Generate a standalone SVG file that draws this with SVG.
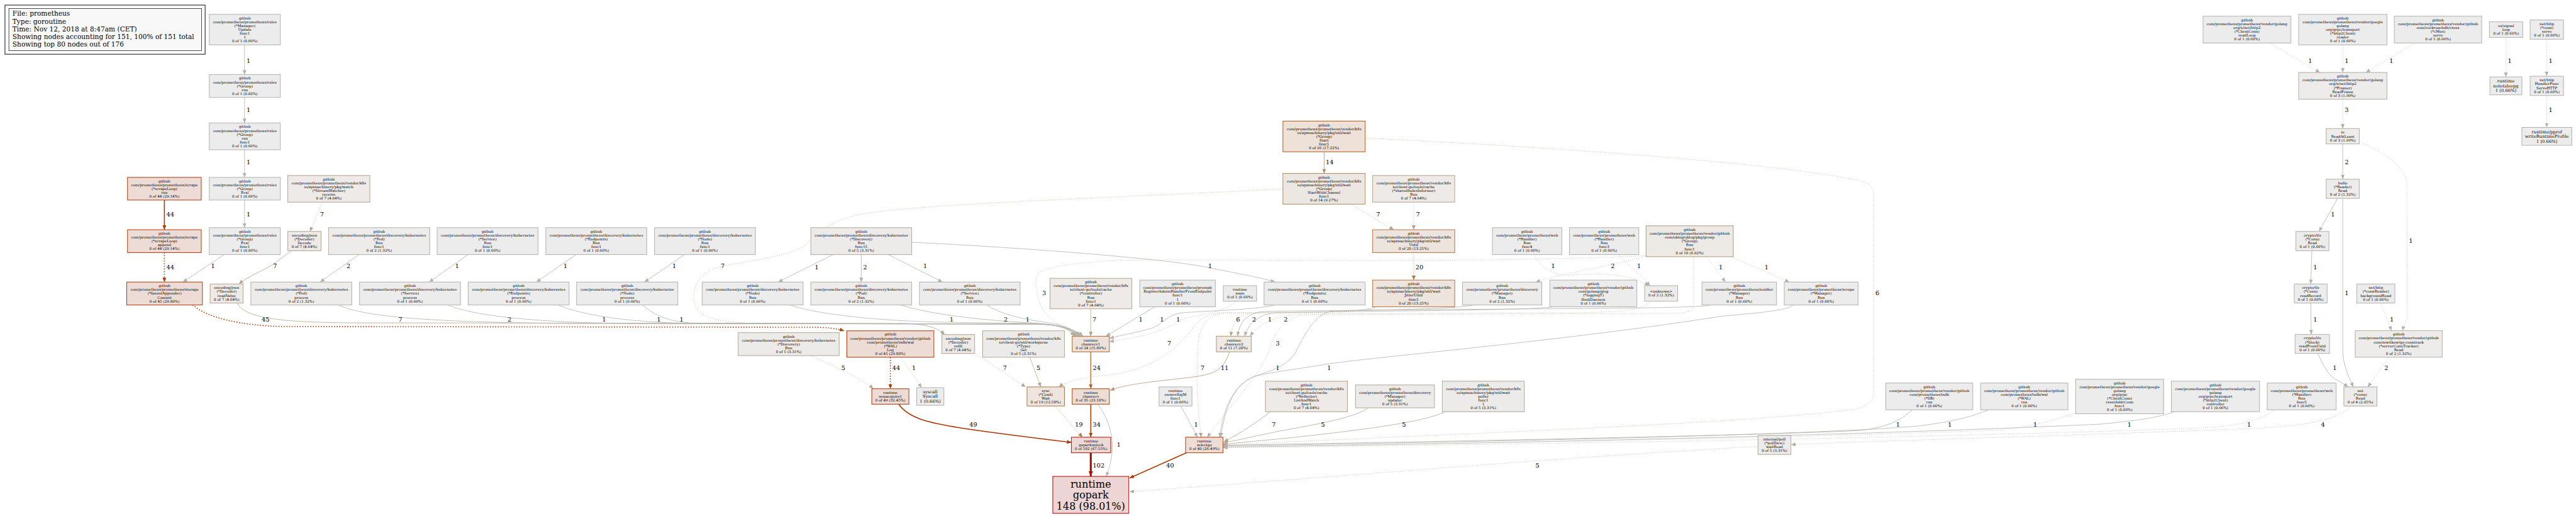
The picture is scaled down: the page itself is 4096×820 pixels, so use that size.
<svg xmlns="http://www.w3.org/2000/svg" width="4096" height="820" viewBox="0 0 4096 820">
<style>
.t{font-family:"DejaVu Serif",serif;font-size:5.7px;text-anchor:middle;fill:#000}
.tm{font-size:6.8px}
.tb{font-size:16px}
.lg{font-family:"DejaVu Serif",serif;font-size:10.6px;fill:#000}
.el{font-family:"DejaVu Serif",serif;font-size:9.8px;text-anchor:middle;fill:#000}
.nd rect{stroke-width:1}
.e{fill:none;stroke-width:0.8}
.d{stroke-dasharray:1 2.2}
.k{stroke-width:1.6}
.kk{stroke-width:3.2}
.dk{stroke-dasharray:1.6 2.6}
.w1 rect{fill:#edecec;stroke:#b2b1ac}
.w2 rect{fill:#edeceb;stroke:#b2afa6}
.w3 rect{fill:#edecea;stroke:#b2ada0}
.w4 rect{fill:#edecea;stroke:#b2aa9a}
.w5 rect{fill:#edebe9;stroke:#b2a794}
.w7 rect{fill:#edeae7;stroke:#b2a289}
.w10 rect{fill:#ede9e5;stroke:#b29877}
.w11 rect{fill:#ede9e4;stroke:#b29471}
.w14 rect{fill:#ede7e2;stroke:#b2895f}
.w19 rect{fill:#ede5de;stroke:#b27642}
.w20 rect{fill:#ede4dd;stroke:#b2723c}
.w24 rect{fill:#ede2da;stroke:#b26024}
.w26 rect{fill:#ede1d8;stroke:#b25718}
.w35 rect{fill:#edddd5;stroke:#b23f00}
.w40 rect{fill:#edddd5;stroke:#b23a00}
.w44 rect{fill:#eddcd5;stroke:#b23700}
.w45 rect{fill:#eddcd5;stroke:#b23600}
.w49 rect{fill:#eddcd5;stroke:#b23300}
.w102 rect{fill:#edd8d5;stroke:#b21300}
.w148 rect{fill:#edd5d5;stroke:#b20100}
.c1{stroke:#b2b1ac;marker-end:url(#a1)}
.c2{stroke:#b2afa6;marker-end:url(#a2)}
.c3{stroke:#b2ada0;marker-end:url(#a3)}
.c4{stroke:#b2aa9a;marker-end:url(#a4)}
.c5{stroke:#b2a794;marker-end:url(#a5)}
.c6{stroke:#b2a58f;marker-end:url(#a6)}
.c7{stroke:#b2a289;marker-end:url(#a7)}
.c11{stroke:#b29471;marker-end:url(#a11)}
.c14{stroke:#b2895f;marker-end:url(#a14)}
.c19{stroke:#b27642;marker-end:url(#a19)}
.c20{stroke:#b2723c;marker-end:url(#a20)}
.c24{stroke:#b26024;marker-end:url(#a24)}
.c34{stroke:#b24000;marker-end:url(#a34)}
.c40{stroke:#b23a00;marker-end:url(#a40)}
.c44{stroke:#b23700;marker-end:url(#a44)}
.c45{stroke:#b23600;marker-end:url(#a45)}
.c49{stroke:#b23300;marker-end:url(#a49)}
.c102{stroke:#b21300;marker-end:url(#a102)}
</style>
<defs>
<marker id="a1" markerWidth="8" markerHeight="7" refX="7" refY="3" orient="auto" markerUnits="userSpaceOnUse"><path d="M0,0L7,3L0,6z" fill="#b2b1ac"/></marker>
<marker id="a2" markerWidth="8" markerHeight="7" refX="7" refY="3" orient="auto" markerUnits="userSpaceOnUse"><path d="M0,0L7,3L0,6z" fill="#b2afa6"/></marker>
<marker id="a3" markerWidth="8" markerHeight="7" refX="7" refY="3" orient="auto" markerUnits="userSpaceOnUse"><path d="M0,0L7,3L0,6z" fill="#b2ada0"/></marker>
<marker id="a4" markerWidth="8" markerHeight="7" refX="7" refY="3" orient="auto" markerUnits="userSpaceOnUse"><path d="M0,0L7,3L0,6z" fill="#b2aa9a"/></marker>
<marker id="a5" markerWidth="8" markerHeight="7" refX="7" refY="3" orient="auto" markerUnits="userSpaceOnUse"><path d="M0,0L7,3L0,6z" fill="#b2a794"/></marker>
<marker id="a6" markerWidth="8" markerHeight="7" refX="7" refY="3" orient="auto" markerUnits="userSpaceOnUse"><path d="M0,0L7,3L0,6z" fill="#b2a58f"/></marker>
<marker id="a7" markerWidth="8" markerHeight="7" refX="7" refY="3" orient="auto" markerUnits="userSpaceOnUse"><path d="M0,0L7,3L0,6z" fill="#b2a289"/></marker>
<marker id="a11" markerWidth="8" markerHeight="7" refX="7" refY="3" orient="auto" markerUnits="userSpaceOnUse"><path d="M0,0L7,3L0,6z" fill="#b29471"/></marker>
<marker id="a14" markerWidth="8" markerHeight="7" refX="7" refY="3" orient="auto" markerUnits="userSpaceOnUse"><path d="M0,0L7,3L0,6z" fill="#b2895f"/></marker>
<marker id="a19" markerWidth="8" markerHeight="7" refX="7" refY="3" orient="auto" markerUnits="userSpaceOnUse"><path d="M0,0L7,3L0,6z" fill="#b27642"/></marker>
<marker id="a20" markerWidth="8" markerHeight="7" refX="7" refY="3" orient="auto" markerUnits="userSpaceOnUse"><path d="M0,0L7,3L0,6z" fill="#b2723c"/></marker>
<marker id="a24" markerWidth="8" markerHeight="7" refX="7" refY="3" orient="auto" markerUnits="userSpaceOnUse"><path d="M0,0L7,3L0,6z" fill="#b26024"/></marker>
<marker id="a34" markerWidth="8" markerHeight="7" refX="7" refY="3" orient="auto" markerUnits="userSpaceOnUse"><path d="M0,0L7,3L0,6z" fill="#b24000"/></marker>
<marker id="a40" markerWidth="8" markerHeight="7" refX="7" refY="3" orient="auto" markerUnits="userSpaceOnUse"><path d="M0,0L7,3L0,6z" fill="#b23a00"/></marker>
<marker id="a44" markerWidth="8" markerHeight="7" refX="7" refY="3" orient="auto" markerUnits="userSpaceOnUse"><path d="M0,0L7,3L0,6z" fill="#b23700"/></marker>
<marker id="a45" markerWidth="8" markerHeight="7" refX="7" refY="3" orient="auto" markerUnits="userSpaceOnUse"><path d="M0,0L7,3L0,6z" fill="#b23600"/></marker>
<marker id="a49" markerWidth="8" markerHeight="7" refX="7" refY="3" orient="auto" markerUnits="userSpaceOnUse"><path d="M0,0L7,3L0,6z" fill="#b23300"/></marker>
<marker id="a102" markerWidth="9" markerHeight="8" refX="8" refY="3.5" orient="auto" markerUnits="userSpaceOnUse"><path d="M0,0L8,3.5L0,7z" fill="#b21300"/></marker>
</defs>
<rect x="0" y="0" width="4096" height="820" fill="#fff"/>

<g id="legend">
<rect x="7.9" y="8.1" width="318.3" height="78.1" fill="#fff" stroke="#444" stroke-width="1.3"/>
<rect x="14.1" y="13.6" width="306.4" height="66.9" fill="#f8f8f8" stroke="#000" stroke-width="0.7"/>
<text class="lg" x="19.8" y="25.3">File: prometheus</text>
<text class="lg" x="19.8" y="37.5">Type: goroutine</text>
<text class="lg" x="19.8" y="49.7">Time: Nov 12, 2018 at 8:47am (CET)</text>
<text class="lg" x="19.8" y="61.9">Showing nodes accounting for 151, 100% of 151 total</text>
<text class="lg" x="19.8" y="74.1">Showing top 80 nodes out of 176</text>
</g>

<g id="connectors">
<path class="e c1" d="M388.8,71.3L388.8,118.4"/>
<path class="e c1" d="M388.8,154.8L388.8,195.4"/>
<path class="e c1" d="M388.8,238L388.8,281.9"/>
<path class="e c1" d="M388.8,317.9L388.8,361.8"/>
<path class="e k c44" d="M261.4,317.9L261.4,365.1"/>
<path class="e d c7" d="M512.7,321.2L492.8,367.8"/>
<path class="e k dk c44" d="M261.4,401.4L261.4,448.2"/>
<path class="e c1" d="M356.2,404.6L290.9,448.2"/>
<path class="e c7" d="M462.8,398.4C455,405 450,408 440,416C425,428 395,438 380,451.3"/>
<path class="e c2" d="M570.8,404.6L509.1,448.2"/>
<path class="e c1" d="M744,404.6L682.4,448.2"/>
<path class="e c1" d="M915.9,404.6L852.9,448.2"/>
<path class="e c1" d="M1088.7,404.6L1024.8,448.2"/>
<path class="e c1" d="M1324.6,404.6L1237.3,448.2"/>
<path class="e c2" d="M1369.4,404.6L1369.4,448.2"/>
<path class="e c1" d="M1412.6,404.6L1498.6,448.2"/>
<path class="e c1" d="M1449.6,385C1600,392 1850,410 1920,425C1970,435 2000,440 2027.5,448.2"/>
<path class="e d c7" d="M2039.9,300.3C1750,315 1450,325 1372,340C1320,350 1300,370 1280,390C1250,410 1180,415 1140,425C1110,435 1100,460 1104,480C1108,500 1130,512 1200,514L1650,515C1690,516 1702,525 1708,534.3"/>
<path class="e k dk c45" d="M306.4,484.7C330,505 380,517 450,519L1290,520C1315,520 1330,522 1342.2,525.7"/>
<path class="e c7" d="M376.9,481.6C390,505 440,512 560,513L1440,514C1470,515 1490,520 1502.1,531.7"/>
<path class="e c2" d="M538.7,484.7C580,505 700,512 900,514L1650,515C1690,516 1705,525 1712,534.3"/>
<path class="e c1" d="M711.9,484.7C760,505 880,513 1000,514L1650,515C1690,516 1708,525 1715,534.3"/>
<path class="e c1" d="M887.3,484.7C930,502 1000,512 1100,514L1650,515C1690,516 1710,525 1718,534.3"/>
<path class="e c1" d="M1021.3,484.7C1040,500 1060,512 1110,514L1650,515C1690,516 1712,525 1721,534.3"/>
<path class="e c1" d="M1256.3,484.7C1300,500 1400,510 1500,512L1650,514C1690,516 1712,525 1722,534.3"/>
<path class="e c2" d="M1432.5,484.7C1480,500 1560,508 1620,512C1680,515 1700,520 1712,534.3"/>
<path class="e c1" d="M1569.1,484.7C1600,505 1650,510 1680,515C1700,520 1710,527 1716,534.3"/>
<path class="e c7" d="M1734.4,490.7L1734.4,534.3"/>
<path class="e c1" d="M1835.8,487.6L1758.6,534.3"/>
<path class="e c1" d="M2027.5,484.7C2000,492 1920,494 1880,497C1855,500 1850,515 1830,522C1800,530 1780,533 1764,538"/>
<path class="e d c1" d="M1965,478.7C1945,500 1890,500 1875,510C1850,528 1800,538 1764,543"/>
<path class="e d c3" d="M2617.3,406.5C2300,420 1900,410 1776,414C1700,418 1650,425 1648,440C1645,470 1655,495 1675,510C1690,520 1702,527 1710,534.3"/>
<path class="e c14" d="M2105.5,241.2L2105.5,275.6"/>
<path class="e d c7" d="M2147.8,324.4L2216.1,365.1"/>
<path class="e d c7" d="M2247.9,321.2L2247.9,365.1"/>
<path class="e d c20" d="M2247.9,401.4L2247.9,445.1"/>
<path class="e d c2" d="M2617.3,406.5C2580,420 2500,430 2441.8,448.2"/>
<path class="e d c1" d="M2439.6,404.6C2450,425 2470,440 2500,437C2560,432 2600,440 2622,454"/>
<path class="e d c1" d="M2574.1,404.6L2624,454"/>
<path class="e d c1" d="M2713,407.9L2743.7,448.2"/>
<path class="e d c1" d="M2752.5,407.9L2845.1,448.2"/>
<path class="e d c6" d="M2170.7,219.5C2500,235 2850,262 2960,288C2975,292 2979,300 2979,312L2979,625C2979,640 2965,646 2950,650C2800,672 2300,690 1944.7,707"/>
<path class="e d c3" d="M2693.1,407.9L2693.1,485C2693,495 2680,498 2660,498L2080,500C2050,501 2030,520 2022,545C2010,590 1960,640 1919.6,694.8"/>
<path class="e d c6" d="M2188.4,487.6C2170,496 2100,496 2000,497C1970,498 1960,510 1957,534.3"/>
<path class="e c2" d="M2342.6,484.7C2300,494 2100,493 2010,495C1980,497 1970,515 1968,534.3"/>
<path class="e c1" d="M2470.5,487.6C2420,494 2150,494 2030,497C2000,499 1985,515 1979,534.3"/>
<path class="e d c2" d="M2624.8,478.7C2610,493 2580,496 2500,497L2070,499C2030,500 2000,515 1988,534.3"/>
<path class="e d c7" d="M2188.4,487.6C2170,497 2100,497 1950,497C1915,497 1905,510 1890,530C1860,565 1820,590 1760,596C1720,600 1695,606 1683.7,614.9"/>
<path class="e d c7" d="M2188.4,487.6C2170,497 2100,497 1950,497C1920,498 1908,520 1905,545C1902,600 1904,650 1910,694.8"/>
<path class="e c1" d="M2719.5,484.7C2700,492 2300,490 2120,494C2095,497 2080,520 2060,560C2045,585 2010,592 1995,598C1960,612 1945,650 1939.4,694.8"/>
<path class="e c1" d="M2851.7,484.7C2840,495 2780,498 2734,503C2500,540 2200,566 2113,578C2070,586 2010,592 1990,600C1960,615 1948,650 1941,694.8"/>
<path class="e c7" d="M2020,654.3C2000,670 1970,690 1946,702"/>
<path class="e c5" d="M2175.1,648.1C2160,660 2120,670 2040,684C2000,692 1970,699 1945,704"/>
<path class="e c5" d="M2297.7,654.3C2270,668 2200,680 2042.9,696.6L1945,706"/>
<path class="e c1" d="M3041.2,651.2C3020,670 3000,678 2960,684C2850,690 2400,700 1945,707.5"/>
<path class="e c1" d="M3162.4,651.2C3130,665 3090,672 3050,677C2900,690 2400,702 1945,708.5"/>
<path class="e d c1" d="M3299.1,656.2C3260,670 3220,680 3180,683C2900,695 2400,704 1945,709.5"/>
<path class="e c1" d="M3457.4,654.3C3430,664 3400,668 3340,674C3000,690 2400,705 1945,710.5"/>
<path class="e d c1" d="M3617.3,651.2C3595,668 3560,677 3500,680C3200,692 2500,706 1945,711.5"/>
<path class="e d c4" d="M3737.8,645.2C3720,665 3680,676 3580,681C3300,692 3000,700 2848,706.5"/>
<path class="e d c5" d="M2795.3,709.6C2500,725 2100,760 1796.1,781.4"/>
<path class="e d c5" d="M1289.3,565.1C1320,580 1370,600 1388.4,617.8"/>
<path class="e k dk c44" d="M1415.7,567.7L1415.7,617.8"/>
<path class="e d c1" d="M1432.4,567.7L1465.5,616"/>
<path class="e d c7" d="M1551.5,562.2L1630.8,614.9"/>
<path class="e c5" d="M1637.4,567.7L1655.1,614.9"/>
<path class="e c24" style="stroke-width:1.2" d="M1734.4,559.1L1734.4,617.8"/>
<path class="e c11" d="M1954.8,559.1C1945,590 1930,595 1890,600C1840,606 1790,610 1765.3,620.4"/>
<path class="e d c19" d="M1677.5,645.2L1721.2,694.8"/>
<path class="e k c34" d="M1734.4,642.3L1734.4,694.8"/>
<path class="e c1" d="M1745.4,642.3C1770,675 1776,715 1758.7,757.1"/>
<path class="e k c49" d="M1428.9,642.3C1445,665 1475,672 1540,682C1610,692 1670,699 1703.6,703.1"/>
<path class="e kk c102" d="M1734.4,719.6L1734.4,757.1"/>
<path class="e k c40" d="M1886.5,719.6L1796.1,759.7"/>
<path class="e c1" d="M1877.7,645.2L1904.1,694.8"/>
<path class="e d c1" d="M3609.4,68.3L3688.8,115.2"/>
<path class="e d c1" d="M3725.1,71.3L3725.1,115.2"/>
<path class="e d c1" d="M3839.9,68.3L3761.9,115.2"/>
<path class="e d c1" d="M3984.5,59.4L3984.5,122.2"/>
<path class="e d c1" d="M4049.4,62.3L4049.4,121.1"/>
<path class="e d c1" d="M4049.4,151.8L4049.4,202.5"/>
<path class="e d c3" d="M3725.1,157.7L3725.1,204.3"/>
<path class="e c2" d="M3725.1,228.7L3725.1,284.8"/>
<path class="e d c1" d="M3751.4,224.9C3790,242 3822,262 3827,290L3827.7,500C3827,510 3822,518 3820.2,525.4"/>
<path class="e c1" d="M3716.8,315.2L3687.4,367.8"/>
<path class="e c1" d="M3725.1,315.2L3725.1,555C3725,580 3735,600 3742.2,614.9"/>
<path class="e c1" d="M3676,398.4L3674.3,451.3"/>
<path class="e c1" d="M3674.3,481.6L3675,531.4"/>
<path class="e c1" d="M3685.7,561.7C3693,580 3700,590 3707,598C3715,605 3725,608 3733.5,614.9"/>
<path class="e d c1" d="M3785.2,481.6L3802.7,525.4"/>
<path class="e d c2" d="M3797.9,567.7L3765,614.9"/>

<text class="el" x="395" y="100.4">1</text>
<text class="el" x="395" y="177.9">1</text>
<text class="el" x="395" y="261.1">1</text>
<text class="el" x="395" y="344.2">1</text>
<text class="el" x="270.7" y="344.2">44</text>
<text class="el" x="511.8" y="344.3">7</text>
<text class="el" x="270.7" y="427.6">44</text>
<text class="el" x="338.5" y="425.6">1</text>
<text class="el" x="437.3" y="425.6">7</text>
<text class="el" x="554.1" y="425.6">2</text>
<text class="el" x="726.8" y="425.6">1</text>
<text class="el" x="899.2" y="425.6">1</text>
<text class="el" x="1072" y="425.6">1</text>
<text class="el" x="1298.6" y="427.6">1</text>
<text class="el" x="1375.6" y="427.6">2</text>
<text class="el" x="1471.2" y="425.6">1</text>
<text class="el" x="1924" y="425.6">1</text>
<text class="el" x="1149" y="425.6">7</text>
<text class="el" x="422.3" y="511.3">45</text>
<text class="el" x="636.5" y="511.3">7</text>
<text class="el" x="810.2" y="511.3">2</text>
<text class="el" x="960.5" y="511.3">1</text>
<text class="el" x="1047.7" y="511.3">1</text>
<text class="el" x="1083.5" y="511.3">1</text>
<text class="el" x="1513.1" y="511.3">1</text>
<text class="el" x="1599.1" y="511.3">2</text>
<text class="el" x="1633.9" y="511.3">1</text>
<text class="el" x="1740.1" y="511.3">7</text>
<text class="el" x="1813.8" y="511.3">1</text>
<text class="el" x="1847.7" y="511.3">1</text>
<text class="el" x="1873.3" y="511.3">1</text>
<text class="el" x="1660.3" y="468.8">3</text>
<text class="el" x="2114.3" y="261.1">14</text>
<text class="el" x="2191.4" y="344.3">7</text>
<text class="el" x="2254.5" y="344.3">7</text>
<text class="el" x="2257.1" y="427.6">20</text>
<text class="el" x="2564.4" y="425.6">2</text>
<text class="el" x="2469.6" y="425.6">1</text>
<text class="el" x="2606.2" y="425.6">1</text>
<text class="el" x="2736.2" y="427.6">1</text>
<text class="el" x="2808.9" y="427.6">1</text>
<text class="el" x="2985.2" y="468.8">6</text>
<text class="el" x="2031.5" y="548.9">3</text>
<text class="el" x="1968.5" y="511.3">6</text>
<text class="el" x="1994.1" y="511.3">2</text>
<text class="el" x="2019.2" y="511.3">1</text>
<text class="el" x="2044.3" y="511.3">2</text>
<text class="el" x="1859.2" y="548.9">7</text>
<text class="el" x="1912" y="588">7</text>
<text class="el" x="2031.5" y="588">1</text>
<text class="el" x="2113.4" y="588">1</text>
<text class="el" x="2025.3" y="677.5">7</text>
<text class="el" x="2103.7" y="677.5">5</text>
<text class="el" x="2232.4" y="677.5">5</text>
<text class="el" x="3017.9" y="677.5">1</text>
<text class="el" x="3100.3" y="677.5">1</text>
<text class="el" x="3236.1" y="677.5">1</text>
<text class="el" x="3385.9" y="677.5">1</text>
<text class="el" x="3576.1" y="677.5">1</text>
<text class="el" x="3693.6" y="677.5">4</text>
<text class="el" x="2444.5" y="742.7">5</text>
<text class="el" x="1340.9" y="588">5</text>
<text class="el" x="1425" y="588">44</text>
<text class="el" x="1453.2" y="588">1</text>
<text class="el" x="1597.8" y="588">7</text>
<text class="el" x="1651.1" y="588">5</text>
<text class="el" x="1743.7" y="588">24</text>
<text class="el" x="1947.3" y="588">11</text>
<text class="el" x="1715.4" y="677.5">19</text>
<text class="el" x="1743.7" y="677.5">34</text>
<text class="el" x="1778.9" y="709.8">1</text>
<text class="el" x="1547.5" y="677.5">49</text>
<text class="el" x="1746.8" y="742.5">102</text>
<text class="el" x="1860.5" y="742.5">40</text>
<text class="el" x="1901.9" y="677.5">1</text>
<text class="el" x="3673.4" y="100.4">1</text>
<text class="el" x="3731.3" y="100.4">1</text>
<text class="el" x="3802.3" y="100.4">1</text>
<text class="el" x="3990.7" y="100.4">1</text>
<text class="el" x="4055.5" y="100.4">1</text>
<text class="el" x="4055.5" y="177.9">1</text>
<text class="el" x="3731.3" y="177.9">3</text>
<text class="el" x="3731.3" y="261.1">2</text>
<text class="el" x="3833.4" y="386.3">1</text>
<text class="el" x="3709.3" y="344.3">1</text>
<text class="el" x="3731.3" y="468.8">1</text>
<text class="el" x="3681.3" y="427.6">1</text>
<text class="el" x="3681.3" y="511.3">1</text>
<text class="el" x="3712.4" y="588">1</text>
<text class="el" x="3803.1" y="511.3">1</text>
<text class="el" x="3794.4" y="588">2</text>
</g>

<g id="n-rules-update" class="nd w1"><rect x="332.8" y="22.8" width="112.9" height="48.5"/><text class="t" x="389.25" y="30.75">github<tspan x="389.25" dy="6.1">com/prometheus/prometheus/rules</tspan><tspan x="389.25" dy="6.1">(*Manager)</tspan><tspan x="389.25" dy="6.1">Update</tspan><tspan x="389.25" dy="6.1">func1</tspan><tspan x="389.25" dy="6.1">1</tspan><tspan x="389.25" dy="6.1">0 of 1 (0.66%)</tspan></text></g>
<g id="n-rules-run" class="nd w1"><rect x="332.8" y="118.4" width="112.9" height="36.4"/><text class="t" x="389.25" y="126.4">github<tspan x="389.25" dy="6.1">com/prometheus/prometheus/rules</tspan><tspan x="389.25" dy="6.1">(*Group)</tspan><tspan x="389.25" dy="6.1">run</tspan><tspan x="389.25" dy="6.1">0 of 1 (0.66%)</tspan></text></g>
<g id="n-rules-run-func1" class="nd w1"><rect x="332.8" y="195.4" width="112.9" height="42.6"/><text class="t" x="389.25" y="203.45">github<tspan x="389.25" dy="6.1">com/prometheus/prometheus/rules</tspan><tspan x="389.25" dy="6.1">(*Group)</tspan><tspan x="389.25" dy="6.1">run</tspan><tspan x="389.25" dy="6.1">func1</tspan><tspan x="389.25" dy="6.1">0 of 1 (0.66%)</tspan></text></g>
<g id="n-rules-eval" class="nd w1"><rect x="332.8" y="281.9" width="112.9" height="36"/><text class="t" x="389.25" y="289.7">github<tspan x="389.25" dy="6.1">com/prometheus/prometheus/rules</tspan><tspan x="389.25" dy="6.1">(*Group)</tspan><tspan x="389.25" dy="6.1">Eval</tspan><tspan x="389.25" dy="6.1">0 of 1 (0.66%)</tspan></text></g>
<g id="n-rules-eval-func1" class="nd w1"><rect x="332.8" y="361.8" width="112.9" height="42.8"/><text class="t" x="389.25" y="369.95">github<tspan x="389.25" dy="6.1">com/prometheus/prometheus/rules</tspan><tspan x="389.25" dy="6.1">(*Group)</tspan><tspan x="389.25" dy="6.1">Eval</tspan><tspan x="389.25" dy="6.1">func1</tspan><tspan x="389.25" dy="6.1">0 of 1 (0.66%)</tspan></text></g>
<g id="n-scrapeloop-run" class="nd w44"><rect x="202.8" y="281.9" width="117.2" height="36"/><text class="t" x="261.4" y="289.7">github<tspan x="261.4" dy="6.1">com/prometheus/prometheus/scrape</tspan><tspan x="261.4" dy="6.1">(*scrapeLoop)</tspan><tspan x="261.4" dy="6.1">run</tspan><tspan x="261.4" dy="6.1">0 of 44 (29.14%)</tspan></text></g>
<g id="n-scrapeloop-append" class="nd w44"><rect x="202.8" y="365.1" width="117.2" height="36.3"/><text class="t" x="261.4" y="373.05">github<tspan x="261.4" dy="6.1">com/prometheus/prometheus/scrape</tspan><tspan x="261.4" dy="6.1">(*scrapeLoop)</tspan><tspan x="261.4" dy="6.1">append</tspan><tspan x="261.4" dy="6.1">0 of 44 (29.14%)</tspan></text></g>
<g id="n-streamwatcher" class="nd w7"><rect x="457.6" y="278.9" width="130.5" height="42.3"/><text class="t" x="522.85" y="286.8">github<tspan x="522.85" dy="6.1">com/prometheus/prometheus/vendor/k8s</tspan><tspan x="522.85" dy="6.1">io/apimachinery/pkg/watch</tspan><tspan x="522.85" dy="6.1">(*StreamWatcher)</tspan><tspan x="522.85" dy="6.1">receive</tspan><tspan x="522.85" dy="6.1">0 of 7 (4.64%)</tspan></text></g>
<g id="n-json-decode" class="nd w7"><rect x="457.6" y="367.8" width="52.9" height="30.6"/><text class="t" x="484.05" y="375.95">encoding/json<tspan x="484.05" dy="6.1">(*Decoder)</tspan><tspan x="484.05" dy="6.1">Decode</tspan><tspan x="484.05" dy="6.1">0 of 7 (4.64%)</tspan></text></g>
<g id="n-pod-run-func1" class="nd w2"><rect x="522.4" y="361.8" width="160.9" height="42.8"/><text class="t" x="602.85" y="369.95">github<tspan x="602.85" dy="6.1">com/prometheus/prometheus/discovery/kubernetes</tspan><tspan x="602.85" dy="6.1">(*Pod)</tspan><tspan x="602.85" dy="6.1">Run</tspan><tspan x="602.85" dy="6.1">func1</tspan><tspan x="602.85" dy="6.1">0 of 2 (1.32%)</tspan></text></g>
<g id="n-service-run-func1" class="nd w1"><rect x="695.1" y="361.8" width="160.4" height="42.8"/><text class="t" x="775.3" y="369.95">github<tspan x="775.3" dy="6.1">com/prometheus/prometheus/discovery/kubernetes</tspan><tspan x="775.3" dy="6.1">(*Service)</tspan><tspan x="775.3" dy="6.1">Run</tspan><tspan x="775.3" dy="6.1">func1</tspan><tspan x="775.3" dy="6.1">0 of 1 (0.66%)</tspan></text></g>
<g id="n-endpoints-run-func1" class="nd w1"><rect x="867.9" y="361.8" width="160.4" height="42.8"/><text class="t" x="948.1" y="369.95">github<tspan x="948.1" dy="6.1">com/prometheus/prometheus/discovery/kubernetes</tspan><tspan x="948.1" dy="6.1">(*Endpoints)</tspan><tspan x="948.1" dy="6.1">Run</tspan><tspan x="948.1" dy="6.1">func1</tspan><tspan x="948.1" dy="6.1">0 of 1 (0.66%)</tspan></text></g>
<g id="n-node-run-func1" class="nd w1"><rect x="1040.7" y="361.8" width="160.4" height="42.8"/><text class="t" x="1120.9" y="369.95">github<tspan x="1120.9" dy="6.1">com/prometheus/prometheus/discovery/kubernetes</tspan><tspan x="1120.9" dy="6.1">(*Node)</tspan><tspan x="1120.9" dy="6.1">Run</tspan><tspan x="1120.9" dy="6.1">func1</tspan><tspan x="1120.9" dy="6.1">0 of 1 (0.66%)</tspan></text></g>
<g id="n-discovery-run-func15" class="nd w5"><rect x="1289.3" y="361.8" width="160.3" height="42.8"/><text class="t" x="1369.45" y="369.95">github<tspan x="1369.45" dy="6.1">com/prometheus/prometheus/discovery/kubernetes</tspan><tspan x="1369.45" dy="6.1">(*Discovery)</tspan><tspan x="1369.45" dy="6.1">Run</tspan><tspan x="1369.45" dy="6.1">func15</tspan><tspan x="1369.45" dy="6.1">0 of 5 (3.31%)</tspan></text></g>
<g id="n-group-start-func1" class="nd w26"><rect x="2039.9" y="192.4" width="130.8" height="48.8"/><text class="t" x="2105.3" y="200.5">github<tspan x="2105.3" dy="6.1">com/prometheus/prometheus/vendor/k8s</tspan><tspan x="2105.3" dy="6.1">io/apimachinery/pkg/util/wait</tspan><tspan x="2105.3" dy="6.1">(*Group)</tspan><tspan x="2105.3" dy="6.1">Start</tspan><tspan x="2105.3" dy="6.1">func1</tspan><tspan x="2105.3" dy="6.1">0 of 26 (17.22%)</tspan></text></g>
<g id="n-startwithchannel-func1" class="nd w14"><rect x="2039.9" y="275.6" width="130.8" height="48.8"/><text class="t" x="2105.3" y="283.7">github<tspan x="2105.3" dy="6.1">com/prometheus/prometheus/vendor/k8s</tspan><tspan x="2105.3" dy="6.1">io/apimachinery/pkg/util/wait</tspan><tspan x="2105.3" dy="6.1">(*Group)</tspan><tspan x="2105.3" dy="6.1">StartWithChannel</tspan><tspan x="2105.3" dy="6.1">func1</tspan><tspan x="2105.3" dy="6.1">0 of 14 (9.27%)</tspan></text></g>
<g id="n-sharedindexinformer-run" class="nd w7"><rect x="2182.6" y="278.9" width="130.5" height="42.3"/><text class="t" x="2247.85" y="286.8">github<tspan x="2247.85" dy="6.1">com/prometheus/prometheus/vendor/k8s</tspan><tspan x="2247.85" dy="6.1">io/client-go/tools/cache</tspan><tspan x="2247.85" dy="6.1">(*sharedIndexInformer)</tspan><tspan x="2247.85" dy="6.1">Run</tspan><tspan x="2247.85" dy="6.1">0 of 7 (4.64%)</tspan></text></g>
<g id="n-wait-until" class="nd w20"><rect x="2182.6" y="365.1" width="130.5" height="36.3"/><text class="t" x="2247.85" y="373.05">github<tspan x="2247.85" dy="6.1">com/prometheus/prometheus/vendor/k8s</tspan><tspan x="2247.85" dy="6.1">io/apimachinery/pkg/util/wait</tspan><tspan x="2247.85" dy="6.1">Until</tspan><tspan x="2247.85" dy="6.1">0 of 20 (13.25%)</tspan></text></g>
<g id="n-web-run-func4" class="nd w1"><rect x="2373" y="361.8" width="110.3" height="42.8"/><text class="t" x="2428.15" y="369.95">github<tspan x="2428.15" dy="6.1">com/prometheus/prometheus/web</tspan><tspan x="2428.15" dy="6.1">(*Handler)</tspan><tspan x="2428.15" dy="6.1">Run</tspan><tspan x="2428.15" dy="6.1">func4</tspan><tspan x="2428.15" dy="6.1">0 of 1 (0.66%)</tspan></text></g>
<g id="n-web-run-func3" class="nd w1"><rect x="2495.6" y="361.8" width="110.2" height="42.8"/><text class="t" x="2550.7" y="369.95">github<tspan x="2550.7" dy="6.1">com/prometheus/prometheus/web</tspan><tspan x="2550.7" dy="6.1">(*Handler)</tspan><tspan x="2550.7" dy="6.1">Run</tspan><tspan x="2550.7" dy="6.1">func3</tspan><tspan x="2550.7" dy="6.1">0 of 1 (0.66%)</tspan></text></g>
<g id="n-oklog-group-run-func1" class="nd w10"><rect x="2617.3" y="358.8" width="138.7" height="49.1"/><text class="t" x="2686.65" y="367.05">github<tspan x="2686.65" dy="6.1">com/prometheus/prometheus/vendor/github</tspan><tspan x="2686.65" dy="6.1">com/oklog/oklog/pkg/group</tspan><tspan x="2686.65" dy="6.1">(*Group)</tspan><tspan x="2686.65" dy="6.1">Run</tspan><tspan x="2686.65" dy="6.1">func1</tspan><tspan x="2686.65" dy="6.1">0 of 10 (6.62%)</tspan></text></g>
<g id="n-http2-readloop" class="nd w1"><rect x="3503" y="25.7" width="139.7" height="42.6"/><text class="t" x="3572.85" y="33.75">github<tspan x="3572.85" dy="6.1">com/prometheus/prometheus/vendor/golang</tspan><tspan x="3572.85" dy="6.1">org/x/net/http2</tspan><tspan x="3572.85" dy="6.1">(*ClientConn)</tspan><tspan x="3572.85" dy="6.1">readLoop</tspan><tspan x="3572.85" dy="6.1">0 of 1 (0.66%)</tspan></text></g>
<g id="n-http2client-reader" class="nd w1"><rect x="3655" y="22.8" width="140.3" height="48.5"/><text class="t" x="3725.15" y="30.75">github<tspan x="3725.15" dy="6.1">com/prometheus/prometheus/vendor/google</tspan><tspan x="3725.15" dy="6.1">golang</tspan><tspan x="3725.15" dy="6.1">org/grpc/transport</tspan><tspan x="3725.15" dy="6.1">(*http2Client)</tspan><tspan x="3725.15" dy="6.1">reader</tspan><tspan x="3725.15" dy="6.1">0 of 1 (0.66%)</tspan></text></g>
<g id="n-cmux-serve" class="nd w1"><rect x="3807.1" y="25.7" width="138.9" height="42.6"/><text class="t" x="3876.55" y="33.75">github<tspan x="3876.55" dy="6.1">com/prometheus/prometheus/vendor/github</tspan><tspan x="3876.55" dy="6.1">com/cockroachdb/cmux</tspan><tspan x="3876.55" dy="6.1">(*cMux)</tspan><tspan x="3876.55" dy="6.1">serve</tspan><tspan x="3876.55" dy="6.1">0 of 1 (0.66%)</tspan></text></g>
<g id="n-signal-loop" class="nd w1"><rect x="3958.3" y="34.7" width="53" height="24.7"/><text class="t" x="3984.8" y="42.95">os/signal<tspan x="3984.8" dy="6.1">loop</tspan><tspan x="3984.8" dy="6.1">0 of 1 (0.66%)</tspan></text></g>
<g id="n-http-conn-serve" class="nd w1"><rect x="4023.1" y="31.7" width="53" height="30.6"/><text class="t" x="4049.6" y="39.85">net/http<tspan x="4049.6" dy="6.1">(*conn)</tspan><tspan x="4049.6" dy="6.1">serve</tspan><tspan x="4049.6" dy="6.1">0 of 1 (0.66%)</tspan></text></g>
<g id="n-framer-readframe" class="nd w3"><rect x="3655" y="115.2" width="140.3" height="42.5"/><text class="t" x="3725.15" y="123.2">github<tspan x="3725.15" dy="6.1">com/prometheus/prometheus/vendor/golang</tspan><tspan x="3725.15" dy="6.1">org/x/net/http2</tspan><tspan x="3725.15" dy="6.1">(*Framer)</tspan><tspan x="3725.15" dy="6.1">ReadFrame</tspan><tspan x="3725.15" dy="6.1">0 of 3 (1.99%)</tspan></text></g>
<g id="n-notetsleepg" class="nd w1"><rect x="3959.1" y="122.2" width="50.9" height="28.5"/><text class="t tm" x="3984.55" y="131.25">runtime<tspan x="3984.55" dy="7.6">notetsleepg</tspan><tspan x="3984.55" dy="7.6">1 (0.66%)</tspan></text></g>
<g id="n-handlerfunc-servehttp" class="nd w1"><rect x="4023.1" y="121.1" width="53" height="30.7"/><text class="t" x="4049.6" y="129.3">net/http<tspan x="4049.6" dy="6.1">HandlerFunc</tspan><tspan x="4049.6" dy="6.1">ServeHTTP</tspan><tspan x="4049.6" dy="6.1">0 of 1 (0.66%)</tspan></text></g>
<g id="n-pprof-writeruntimeprofile" class="nd w1"><rect x="4010" y="202.5" width="79.3" height="28.4"/><text class="t tm" x="4049.65" y="211.5">runtime/pprof<tspan x="4049.65" dy="7.6">writeRuntimeProfile</tspan><tspan x="4049.65" dy="7.6">1 (0.66%)</tspan></text></g>
<g id="n-io-readatleast" class="nd w3"><rect x="3698.8" y="204.3" width="52.6" height="24.4"/><text class="t" x="3725.1" y="212.4">io<tspan x="3725.1" dy="6.1">ReadAtLeast</tspan><tspan x="3725.1" dy="6.1">0 of 3 (1.99%)</tspan></text></g>
<g id="n-bufio-read" class="nd w2"><rect x="3698.8" y="284.8" width="52.6" height="30.4"/><text class="t" x="3725.1" y="292.85">bufio<tspan x="3725.1" dy="6.1">(*Reader)</tspan><tspan x="3725.1" dy="6.1">Read</tspan><tspan x="3725.1" dy="6.1">0 of 2 (1.32%)</tspan></text></g>
<g id="n-tls-conn-read" class="nd w1"><rect x="3650.6" y="367.8" width="52.6" height="30.6"/><text class="t" x="3676.9" y="375.95">crypto/tls<tspan x="3676.9" dy="6.1">(*Conn)</tspan><tspan x="3676.9" dy="6.1">Read</tspan><tspan x="3676.9" dy="6.1">0 of 1 (0.66%)</tspan></text></g>
<g id="n-fanout-commit" class="nd w45"><rect x="201.5" y="448.2" width="120.3" height="36.5"/><text class="t" x="261.65" y="456.25">github<tspan x="261.65" dy="6.1">com/prometheus/prometheus/storage</tspan><tspan x="261.65" dy="6.1">(*fanoutAppender)</tspan><tspan x="261.65" dy="6.1">Commit</tspan><tspan x="261.65" dy="6.1">0 of 45 (29.80%)</tspan></text></g>
<g id="n-json-readvalue" class="nd w7"><rect x="334.1" y="451.3" width="52.5" height="30.3"/><text class="t" x="360.35" y="459.3">encoding/json<tspan x="360.35" dy="6.1">(*Decoder)</tspan><tspan x="360.35" dy="6.1">readValue</tspan><tspan x="360.35" dy="6.1">0 of 7 (4.64%)</tspan></text></g>
<g id="n-pod-process" class="nd w2"><rect x="398.9" y="448.2" width="160.5" height="36.5"/><text class="t" x="479.15" y="456.25">github<tspan x="479.15" dy="6.1">com/prometheus/prometheus/discovery/kubernetes</tspan><tspan x="479.15" dy="6.1">(*Pod)</tspan><tspan x="479.15" dy="6.1">process</tspan><tspan x="479.15" dy="6.1">0 of 2 (1.32%)</tspan></text></g>
<g id="n-service-process" class="nd w1"><rect x="571.7" y="448.2" width="160.4" height="36.5"/><text class="t" x="651.9" y="456.25">github<tspan x="651.9" dy="6.1">com/prometheus/prometheus/discovery/kubernetes</tspan><tspan x="651.9" dy="6.1">(*Service)</tspan><tspan x="651.9" dy="6.1">process</tspan><tspan x="651.9" dy="6.1">0 of 1 (0.66%)</tspan></text></g>
<g id="n-endpoints-process" class="nd w1"><rect x="744.4" y="448.2" width="160.5" height="36.5"/><text class="t" x="824.65" y="456.25">github<tspan x="824.65" dy="6.1">com/prometheus/prometheus/discovery/kubernetes</tspan><tspan x="824.65" dy="6.1">(*Endpoints)</tspan><tspan x="824.65" dy="6.1">process</tspan><tspan x="824.65" dy="6.1">0 of 1 (0.66%)</tspan></text></g>
<g id="n-node-process" class="nd w1"><rect x="916.8" y="448.2" width="160.9" height="36.5"/><text class="t" x="997.25" y="456.25">github<tspan x="997.25" dy="6.1">com/prometheus/prometheus/discovery/kubernetes</tspan><tspan x="997.25" dy="6.1">(*Node)</tspan><tspan x="997.25" dy="6.1">process</tspan><tspan x="997.25" dy="6.1">0 of 1 (0.66%)</tspan></text></g>
<g id="n-node-run" class="nd w1"><rect x="1116.5" y="448.2" width="160.5" height="36.5"/><text class="t" x="1196.75" y="456.25">github<tspan x="1196.75" dy="6.1">com/prometheus/prometheus/discovery/kubernetes</tspan><tspan x="1196.75" dy="6.1">(*Node)</tspan><tspan x="1196.75" dy="6.1">Run</tspan><tspan x="1196.75" dy="6.1">0 of 1 (0.66%)</tspan></text></g>
<g id="n-pod-run" class="nd w2"><rect x="1289.3" y="448.2" width="160.3" height="36.5"/><text class="t" x="1369.45" y="456.25">github<tspan x="1369.45" dy="6.1">com/prometheus/prometheus/discovery/kubernetes</tspan><tspan x="1369.45" dy="6.1">(*Pod)</tspan><tspan x="1369.45" dy="6.1">Run</tspan><tspan x="1369.45" dy="6.1">0 of 2 (1.32%)</tspan></text></g>
<g id="n-service-run" class="nd w1"><rect x="1462" y="448.2" width="160" height="36.5"/><text class="t" x="1542" y="456.25">github<tspan x="1542" dy="6.1">com/prometheus/prometheus/discovery/kubernetes</tspan><tspan x="1542" dy="6.1">(*Service)</tspan><tspan x="1542" dy="6.1">Run</tspan><tspan x="1542" dy="6.1">0 of 1 (0.66%)</tspan></text></g>
<g id="n-controller-run-func1" class="nd w7"><rect x="1669.6" y="442.2" width="130.1" height="48.5"/><text class="t" x="1734.65" y="450.15">github<tspan x="1734.65" dy="6.1">com/prometheus/prometheus/vendor/k8s</tspan><tspan x="1734.65" dy="6.1">io/client-go/tools/cache</tspan><tspan x="1734.65" dy="6.1">(*controller)</tspan><tspan x="1734.65" dy="6.1">Run</tspan><tspan x="1734.65" dy="6.1">func1</tspan><tspan x="1734.65" dy="6.1">0 of 7 (4.64%)</tspan></text></g>
<g id="n-registeradmin-func1" class="nd w1"><rect x="1812.4" y="445.1" width="120" height="42.5"/><text class="t" x="1872.4" y="453.1">github<tspan x="1872.4" dy="6.1">com/prometheus/prometheus/prompb</tspan><tspan x="1872.4" dy="6.1">RegisterAdminHandlerFromEndpoint</tspan><tspan x="1872.4" dy="6.1">func1</tspan><tspan x="1872.4" dy="6.1">1</tspan><tspan x="1872.4" dy="6.1">0 of 1 (0.66%)</tspan></text></g>
<g id="n-runtime-main" class="nd w1"><rect x="1945.1" y="454" width="52.9" height="24.7"/><text class="t" x="1971.55" y="462.25">runtime<tspan x="1971.55" dy="6.1">main</tspan><tspan x="1971.55" dy="6.1">0 of 1 (0.66%)</tspan></text></g>
<g id="n-endpoints-run" class="nd w1"><rect x="2009.9" y="448.2" width="160.8" height="36.5"/><text class="t" x="2090.3" y="456.25">github<tspan x="2090.3" dy="6.1">com/prometheus/prometheus/discovery/kubernetes</tspan><tspan x="2090.3" dy="6.1">(*Endpoints)</tspan><tspan x="2090.3" dy="6.1">Run</tspan><tspan x="2090.3" dy="6.1">0 of 1 (0.66%)</tspan></text></g>
<g id="n-jitteruntil-func1" class="nd w20"><rect x="2182.6" y="445.1" width="130.5" height="42.5"/><text class="t" x="2247.85" y="453.1">github<tspan x="2247.85" dy="6.1">com/prometheus/prometheus/vendor/k8s</tspan><tspan x="2247.85" dy="6.1">io/apimachinery/pkg/util/wait</tspan><tspan x="2247.85" dy="6.1">JitterUntil</tspan><tspan x="2247.85" dy="6.1">func1</tspan><tspan x="2247.85" dy="6.1">0 of 20 (13.25%)</tspan></text></g>
<g id="n-discovery-manager-run" class="nd w2"><rect x="2325.4" y="448.2" width="126.1" height="36.5"/><text class="t" x="2388.45" y="456.25">github<tspan x="2388.45" dy="6.1">com/prometheus/prometheus/discovery</tspan><tspan x="2388.45" dy="6.1">(*Manager)</tspan><tspan x="2388.45" dy="6.1">Run</tspan><tspan x="2388.45" dy="6.1">0 of 2 (1.32%)</tspan></text></g>
<g id="n-glog-flushdaemon" class="nd w1"><rect x="2464.3" y="445.1" width="138.4" height="42.5"/><text class="t" x="2533.5" y="453.1">github<tspan x="2533.5" dy="6.1">com/prometheus/prometheus/vendor/github</tspan><tspan x="2533.5" dy="6.1">com/golang/glog</tspan><tspan x="2533.5" dy="6.1">(*loggingT)</tspan><tspan x="2533.5" dy="6.1">flushDaemon</tspan><tspan x="2533.5" dy="6.1">0 of 1 (0.66%)</tspan></text></g>
<g id="n-unknown" class="nd w2"><rect x="2615.1" y="454" width="52.4" height="24.7"/><text class="t" x="2641.3" y="465.3">&lt;unknown&gt;<tspan x="2641.3" dy="6.1">0 of 2 (1.32%)</tspan></text></g>
<g id="n-notifier-manager-run" class="nd w1"><rect x="2706.3" y="448.2" width="118.5" height="36.5"/><text class="t" x="2765.55" y="456.25">github<tspan x="2765.55" dy="6.1">com/prometheus/prometheus/notifier</tspan><tspan x="2765.55" dy="6.1">(*Manager)</tspan><tspan x="2765.55" dy="6.1">Run</tspan><tspan x="2765.55" dy="6.1">0 of 1 (0.66%)</tspan></text></g>
<g id="n-scrape-manager-run" class="nd w1"><rect x="2837.1" y="448.2" width="117.3" height="36.5"/><text class="t" x="2895.75" y="456.25">github<tspan x="2895.75" dy="6.1">com/prometheus/prometheus/scrape</tspan><tspan x="2895.75" dy="6.1">(*Manager)</tspan><tspan x="2895.75" dy="6.1">Run</tspan><tspan x="2895.75" dy="6.1">0 of 1 (0.66%)</tspan></text></g>
<g id="n-tls-readrecord" class="nd w1"><rect x="3648" y="451.3" width="52.2" height="30.3"/><text class="t" x="3674.1" y="459.3">crypto/tls<tspan x="3674.1" dy="6.1">(*Conn)</tspan><tspan x="3674.1" dy="6.1">readRecord</tspan><tspan x="3674.1" dy="6.1">0 of 1 (0.66%)</tspan></text></g>
<g id="n-connreader-backgroundread" class="nd w1"><rect x="3747.5" y="451.3" width="60.5" height="30.3"/><text class="t" x="3777.75" y="459.3">net/http<tspan x="3777.75" dy="6.1">(*connReader)</tspan><tspan x="3777.75" dy="6.1">backgroundRead</tspan><tspan x="3777.75" dy="6.1">0 of 1 (0.66%)</tspan></text></g>
<g id="n-discovery-run" class="nd w5"><rect x="1173.8" y="528.6" width="160.5" height="36.5"/><text class="t" x="1254.05" y="536.65">github<tspan x="1254.05" dy="6.1">com/prometheus/prometheus/discovery/kubernetes</tspan><tspan x="1254.05" dy="6.1">(*Discovery)</tspan><tspan x="1254.05" dy="6.1">Run</tspan><tspan x="1254.05" dy="6.1">0 of 5 (3.31%)</tspan></text></g>
<g id="n-wal-log" class="nd w45"><rect x="1346.6" y="525.7" width="138.3" height="42"/><text class="t" x="1415.75" y="533.45">github<tspan x="1415.75" dy="6.1">com/prometheus/prometheus/vendor/github</tspan><tspan x="1415.75" dy="6.1">com/prometheus/tsdb/wal</tspan><tspan x="1415.75" dy="6.1">(*WAL)</tspan><tspan x="1415.75" dy="6.1">Log</tspan><tspan x="1415.75" dy="6.1">0 of 45 (29.80%)</tspan></text></g>
<g id="n-json-refill" class="nd w7"><rect x="1497.7" y="531.7" width="52" height="30"/><text class="t" x="1523.7" y="539.55">encoding/json<tspan x="1523.7" dy="6.1">(*Decoder)</tspan><tspan x="1523.7" dy="6.1">refill</tspan><tspan x="1523.7" dy="6.1">0 of 7 (4.64%)</tspan></text></g>
<g id="n-workqueue-get" class="nd w5"><rect x="1562.5" y="525.7" width="130" height="42"/><text class="t" x="1627.5" y="533.45">github<tspan x="1627.5" dy="6.1">com/prometheus/prometheus/vendor/k8s</tspan><tspan x="1627.5" dy="6.1">io/client-go/util/workqueue</tspan><tspan x="1627.5" dy="6.1">(*Type)</tspan><tspan x="1627.5" dy="6.1">Get</tspan><tspan x="1627.5" dy="6.1">0 of 5 (3.31%)</tspan></text></g>
<g id="n-chanrecv1" class="nd w24"><rect x="1704.9" y="534.3" width="59" height="24.8"/><text class="t" x="1734.4" y="542.6">runtime<tspan x="1734.4" dy="6.1">chanrecv1</tspan><tspan x="1734.4" dy="6.1">0 of 24 (15.89%)</tspan></text></g>
<g id="n-chanrecv2" class="nd w11"><rect x="1934.1" y="534.3" width="55.6" height="24.8"/><text class="t" x="1961.9" y="542.6">runtime<tspan x="1961.9" dy="6.1">chanrecv2</tspan><tspan x="1961.9" dy="6.1">0 of 11 (7.28%)</tspan></text></g>
<g id="n-tls-readfromuntil" class="nd w1"><rect x="3649.3" y="531.4" width="54.8" height="30.3"/><text class="t" x="3676.7" y="539.4">crypto/tls<tspan x="3676.7" dy="6.1">(*block)</tspan><tspan x="3676.7" dy="6.1">readFromUntil</tspan><tspan x="3676.7" dy="6.1">0 of 1 (0.66%)</tspan></text></g>
<g id="n-conntrack-read" class="nd w2"><rect x="3744.9" y="525.4" width="138.4" height="42.3"/><text class="t" x="3814.1" y="533.3">github<tspan x="3814.1" dy="6.1">com/prometheus/prometheus/vendor/github</tspan><tspan x="3814.1" dy="6.1">com/mwitkow/go-conntrack</tspan><tspan x="3814.1" dy="6.1">(*serverConnTracker)</tspan><tspan x="3814.1" dy="6.1">Read</tspan><tspan x="3814.1" dy="6.1">0 of 2 (1.32%)</tspan></text></g>
<g id="n-reflector-listandwatch-func1" class="nd w7"><rect x="2012.1" y="605.8" width="130.4" height="48.5"/><text class="t" x="2077.3" y="613.75">github<tspan x="2077.3" dy="6.1">com/prometheus/prometheus/vendor/k8s</tspan><tspan x="2077.3" dy="6.1">io/client-go/tools/cache</tspan><tspan x="2077.3" dy="6.1">(*Reflector)</tspan><tspan x="2077.3" dy="6.1">ListAndWatch</tspan><tspan x="2077.3" dy="6.1">func1</tspan><tspan x="2077.3" dy="6.1">0 of 7 (4.64%)</tspan></text></g>
<g id="n-discovery-manager-updater" class="nd w5"><rect x="2155.3" y="611.8" width="125.6" height="36.3"/><text class="t" x="2218.1" y="619.75">github<tspan x="2218.1" dy="6.1">com/prometheus/prometheus/discovery</tspan><tspan x="2218.1" dy="6.1">(*Manager)</tspan><tspan x="2218.1" dy="6.1">updater</tspan><tspan x="2218.1" dy="6.1">0 of 5 (3.31%)</tspan></text></g>
<g id="n-wait-poller-func1" class="nd w5"><rect x="2293.3" y="605.8" width="130.5" height="48.5"/><text class="t" x="2358.55" y="613.75">github<tspan x="2358.55" dy="6.1">com/prometheus/prometheus/vendor/k8s</tspan><tspan x="2358.55" dy="6.1">io/apimachinery/pkg/util/wait</tspan><tspan x="2358.55" dy="6.1">poller</tspan><tspan x="2358.55" dy="6.1">func1</tspan><tspan x="2358.55" dy="6.1">1</tspan><tspan x="2358.55" dy="6.1">0 of 5 (3.31%)</tspan></text></g>
<g id="n-tsdb-db-run" class="nd w1"><rect x="2998.5" y="608.7" width="138.4" height="42.5"/><text class="t" x="3067.7" y="616.7">github<tspan x="3067.7" dy="6.1">com/prometheus/prometheus/vendor/github</tspan><tspan x="3067.7" dy="6.1">com/prometheus/tsdb</tspan><tspan x="3067.7" dy="6.1">(*DB)</tspan><tspan x="3067.7" dy="6.1">run</tspan><tspan x="3067.7" dy="6.1">0 of 1 (0.66%)</tspan></text></g>
<g id="n-wal-run" class="nd w1"><rect x="3149.2" y="608.7" width="138.9" height="42.5"/><text class="t" x="3218.65" y="616.7">github<tspan x="3218.65" dy="6.1">com/prometheus/prometheus/vendor/github</tspan><tspan x="3218.65" dy="6.1">com/prometheus/tsdb/wal</tspan><tspan x="3218.65" dy="6.1">(*WAL)</tspan><tspan x="3218.65" dy="6.1">run</tspan><tspan x="3218.65" dy="6.1">0 of 1 (0.66%)</tspan></text></g>
<g id="n-grpc-resetaddrconn-func1" class="nd w1"><rect x="3300.4" y="602.7" width="139.9" height="54.8"/><text class="t" x="3370.35" y="610.75">github<tspan x="3370.35" dy="6.1">com/prometheus/prometheus/vendor/google</tspan><tspan x="3370.35" dy="6.1">golang</tspan><tspan x="3370.35" dy="6.1">org/grpc</tspan><tspan x="3370.35" dy="6.1">(*ClientConn)</tspan><tspan x="3370.35" dy="6.1">resetAddrConn</tspan><tspan x="3370.35" dy="6.1">func1</tspan><tspan x="3370.35" dy="6.1">0 of 1 (0.66%)</tspan></text></g>
<g id="n-http2client-controller" class="nd w1"><rect x="3452.6" y="605.8" width="140.2" height="48.5"/><text class="t" x="3522.7" y="613.75">github<tspan x="3522.7" dy="6.1">com/prometheus/prometheus/vendor/google</tspan><tspan x="3522.7" dy="6.1">golang</tspan><tspan x="3522.7" dy="6.1">org/grpc/transport</tspan><tspan x="3522.7" dy="6.1">(*http2Client)</tspan><tspan x="3522.7" dy="6.1">controller</tspan><tspan x="3522.7" dy="6.1">0 of 1 (0.66%)</tspan></text></g>
<g id="n-web-run-func5" class="nd w1"><rect x="3605.1" y="608.7" width="109.5" height="42.5"/><text class="t" x="3659.85" y="616.7">github<tspan x="3659.85" dy="6.1">com/prometheus/prometheus/web</tspan><tspan x="3659.85" dy="6.1">(*Handler)</tspan><tspan x="3659.85" dy="6.1">Run</tspan><tspan x="3659.85" dy="6.1">func5</tspan><tspan x="3659.85" dy="6.1">0 of 1 (0.66%)</tspan></text></g>
<g id="n-net-conn-read" class="nd w4"><rect x="3726.9" y="614.9" width="52.6" height="30.3"/><text class="t" x="3753.2" y="622.9">net<tspan x="3753.2" dy="6.1">(*conn)</tspan><tspan x="3753.2" dy="6.1">Read</tspan><tspan x="3753.2" dy="6.1">0 of 4 (2.65%)</tspan></text></g>
<g id="n-semacquire1" class="nd w49"><rect x="1386.2" y="617.8" width="59" height="24.5"/><text class="t" x="1415.7" y="625.95">runtime<tspan x="1415.7" dy="6.1">semacquire1</tspan><tspan x="1415.7" dy="6.1">0 of 49 (32.45%)</tspan></text></g>
<g id="n-syscall" class="nd w1"><rect x="1457.6" y="616" width="43.2" height="28.1"/><text class="t tm" x="1479.2" y="624.85">syscall<tspan x="1479.2" dy="7.6">Syscall</tspan><tspan x="1479.2" dy="7.6">1 (0.66%)</tspan></text></g>
<g id="n-cond-wait" class="nd w19"><rect x="1633" y="614.9" width="59.5" height="30.3"/><text class="t" x="1662.75" y="622.9">sync<tspan x="1662.75" dy="6.1">(*Cond)</tspan><tspan x="1662.75" dy="6.1">Wait</tspan><tspan x="1662.75" dy="6.1">0 of 19 (12.58%)</tspan></text></g>
<g id="n-chanrecv" class="nd w35"><rect x="1704.9" y="617.8" width="59" height="24.5"/><text class="t" x="1734.4" y="625.95">runtime<tspan x="1734.4" dy="6.1">chanrecv</tspan><tspan x="1734.4" dy="6.1">0 of 35 (23.18%)</tspan></text></g>
<g id="n-ensuresigm-func1" class="nd w1"><rect x="1842.9" y="614.9" width="52.4" height="30.3"/><text class="t" x="1869.1" y="622.9">runtime<tspan x="1869.1" dy="6.1">ensureSigM</tspan><tspan x="1869.1" dy="6.1">func1</tspan><tspan x="1869.1" dy="6.1">0 of 1 (0.66%)</tspan></text></g>
<g id="n-polldesc-waitread" class="nd w5"><rect x="2795.3" y="691.9" width="52.4" height="30.3"/><text class="t" x="2821.5" y="699.9">internal/poll<tspan x="2821.5" dy="6.1">(*pollDesc)</tspan><tspan x="2821.5" dy="6.1">waitRead</tspan><tspan x="2821.5" dy="6.1">0 of 5 (3.31%)</tspan></text></g>
<g id="n-goparkunlock" class="nd w102"><rect x="1703.6" y="694.8" width="62.6" height="24.8"/><text class="t" x="1734.9" y="703.1">runtime<tspan x="1734.9" dy="6.1">goparkunlock</tspan><tspan x="1734.9" dy="6.1">0 of 102 (67.55%)</tspan></text></g>
<g id="n-selectgo" class="nd w40"><rect x="1885.2" y="694.8" width="59.5" height="24.8"/><text class="t" x="1914.95" y="703.1">runtime<tspan x="1914.95" dy="6.1">selectgo</tspan><tspan x="1914.95" dy="6.1">0 of 40 (26.49%)</tspan></text></g>
<g id="n-gopark" class="nd w148"><rect x="1674" y="757.1" width="120.8" height="58.7"/><text class="t tb" x="1734.4" y="774.55">runtime<tspan x="1734.4" dy="17.5">gopark</tspan><tspan x="1734.4" dy="17.5">148 (98.01%)</tspan></text></g>
</svg>
